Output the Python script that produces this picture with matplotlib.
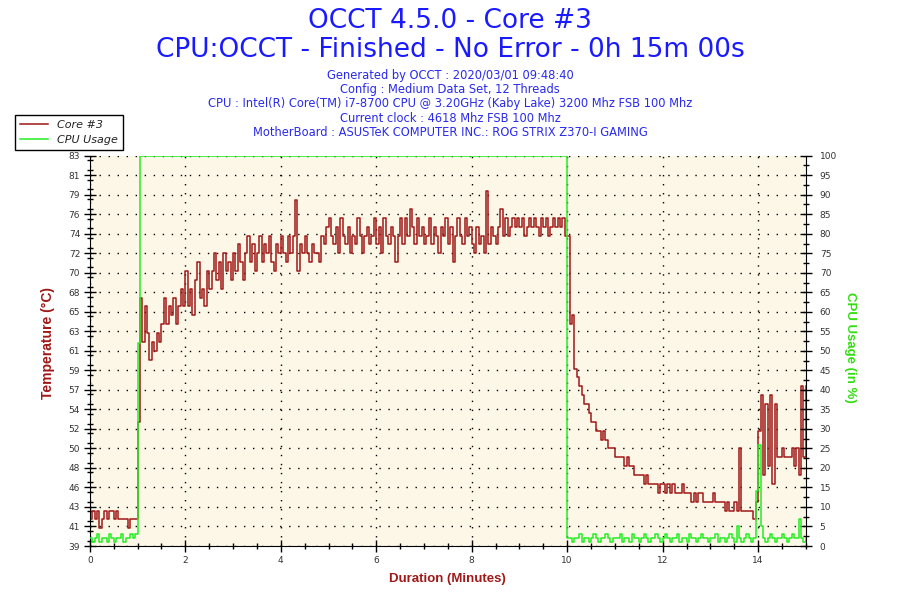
import numpy as np
import matplotlib
matplotlib.use("Agg")
from matplotlib import pyplot as plt
from matplotlib.ticker import MultipleLocator

# Samples, one every 0.05 min (3 s)
sample_step = 0.05

core_temp = [
    42, 43, 42, 43, 41, 42, 43, 42, 43, 43, 42, 43, 42, 42, 42, 42, 41, 42, 42, 42,  # 0 min
    53, 67, 62, 66, 63, 60, 62, 61, 63, 62, 64, 67, 64, 66, 65, 67, 64, 66, 68, 66,  # 1
    70, 66, 68, 65, 69, 71, 67, 68, 66, 70, 68, 70, 72, 69, 71, 68, 72, 70, 71, 69,  # 2
    72, 70, 73, 71, 69, 72, 74, 71, 73, 70, 72, 74, 71, 73, 72, 74, 71, 70, 73, 72,  # 3
    74, 72, 71, 74, 72, 74, 78, 70, 73, 72, 74, 72, 71, 73, 72, 72, 71, 74, 73, 75,  # 4
    76, 74, 73, 75, 72, 76, 74, 73, 75, 72, 74, 73, 76, 74, 72, 74, 75, 73, 74, 76,  # 5
    73, 75, 72, 76, 74, 73, 75, 74, 71, 74, 76, 73, 76, 74, 77, 75, 73, 76, 74, 75,  # 6
    73, 74, 76, 73, 75, 74, 72, 75, 74, 76, 73, 75, 71, 74, 76, 74, 73, 76, 74, 75,  # 7
    73, 72, 75, 73, 74, 72, 79, 73, 75, 74, 73, 75, 77, 74, 76, 74, 75, 76, 75, 76,  # 8
    75, 76, 74, 75, 76, 75, 76, 75, 74, 76, 75, 76, 74, 75, 76, 75, 76, 75, 76, 74,  # 9
    74, 64, 65, 59, 58, 57, 56, 55, 55, 54, 53, 53, 52, 52, 51, 52, 51, 50, 50, 50,  # 10
    49, 49, 49, 49, 48, 49, 48, 48, 47, 47, 47, 47, 46, 47, 46, 46, 46, 46, 45, 46,  # 11
    46, 45, 46, 45, 46, 45, 45, 45, 46, 45, 45, 45, 44, 45, 44, 45, 45, 44, 44, 44,  # 12
    44, 45, 44, 44, 44, 44, 43, 44, 43, 43, 44, 43, 50, 43, 43, 43, 43, 43, 42, 44,  # 13
    52, 56, 47, 55, 48, 56, 46, 55, 49, 49, 50, 49, 49, 49, 50, 48, 50, 47, 57, 49,  # 14
    57,
]

cpu_idle_start = [2, 1, 2, 3, 1, 2, 2, 1, 3, 2, 1, 2, 2, 3, 1, 2, 2, 3, 2, 3]
cpu_load = [52] + [100] * 179
cpu_idle_end = [
    2,
    2, 1, 2, 2, 3, 1, 2, 2, 1, 2, 3, 2, 1, 2, 2, 3, 2, 1, 2, 2,
    2, 3, 1, 2, 2, 1, 3, 2, 2, 1, 2, 3, 2, 1, 2, 2, 3, 2, 1, 2,
    3, 2, 1, 2, 2, 3, 1, 2, 2, 1, 3, 2, 2, 1, 2, 3, 2, 2, 1, 2,
    2, 3, 1, 2, 2, 1, 2, 3, 2, 1, 5, 2, 1, 2, 3, 2, 1, 2, 14, 26,
    5, 2, 1, 2, 3, 2, 1, 2, 2, 3, 2, 1, 2, 3, 2, 2, 7, 2, 1, 2,
]
cpu_usage = cpu_idle_start + cpu_load + cpu_idle_end

temp_ticks = np.linspace(39, 83, 21)
temp_tick_labels = ["39", "41", "43", "46", "48", "50", "52", "54", "57", "59", "61",
                    "63", "65", "68", "70", "72", "74", "76", "79", "81", "83"]
cpu_ticks = list(range(0, 101, 5))
minute_ticks = [0, 2, 4, 6, 8, 10, 12, 14]

title_lines = ["OCCT 4.5.0 - Core #3", "CPU:OCCT - Finished - No Error - 0h 15m 00s"]
info_lines = [
    "Generated by OCCT : 2020/03/01 09:48:40",
    "Config : Medium Data Set, 12 Threads",
    "CPU : Intel(R) Core(TM) i7-8700 CPU @ 3.20GHz (Kaby Lake) 3200 Mhz FSB 100 Mhz",
    "Current clock : 4618 Mhz FSB 100 Mhz",
    "MotherBoard : ASUSTeK COMPUTER INC.: ROG STRIX Z370-I GAMING",
]

minutes = np.arange(len(core_temp)) * sample_step

red = "#a01818"
green = "#22ee22"
blue = "#1a1aff"

fig = plt.figure(figsize=(9, 6), dpi=100)
ax = fig.add_axes([0.0998, 0.09, 0.7956, 0.6505])
ax.set_facecolor("#fdf7e8")

temp_line, = ax.plot(minutes, core_temp, color=red, lw=1.1, drawstyle="steps-post")
ax.set_xlim(0, 15)
ax.set_ylim(39, 83)
ax.set_yticks(temp_ticks)
ax.set_yticklabels(temp_tick_labels)
ax.yaxis.set_minor_locator(MultipleLocator(1.1))
ax.set_xticks(minute_ticks)
ax.set_xticklabels([str(m) for m in minute_ticks])
ax.xaxis.set_minor_locator(MultipleLocator(0.5))
ax.tick_params(which="major", direction="inout", length=8, width=1,
               labelsize=6.5, labelcolor="#333333", pad=3)
ax.tick_params(which="minor", direction="inout", length=5, width=1)
ax.grid(True, which="major", color="black", linestyle=(0, (1, 5.5)), lw=1.0)
for s in ["top", "right"]:
    ax.spines[s].set_visible(False)

ax2 = ax.twinx()
cpu_line, = ax2.plot(minutes, cpu_usage, color=green, lw=1.1, drawstyle="steps-post")
ax2.set_ylim(0, 100)
ax2.set_yticks(cpu_ticks)
ax2.yaxis.set_minor_locator(MultipleLocator(2.5))
ax2.tick_params(which="major", direction="inout", length=8, width=1,
                labelsize=6.5, labelcolor="#333333", pad=6)
ax2.tick_params(which="minor", direction="inout", length=5, width=1)
for s in ["top", "left", "bottom"]:
    ax2.spines[s].set_visible(False)

# titles
fig.text(0.5, 1 - 21 / 600, title_lines[0], fontsize=19, color=blue, ha="center", va="center")
fig.text(0.5, 1 - 50 / 600, title_lines[1], fontsize=19, color=blue, ha="center", va="center")
for i, line in enumerate(info_lines):
    fig.text(0.5, 1 - (76 + 14 * i) / 600, line, fontsize=8.3, color="#2a2aee",
             ha="center", va="center")

# axis labels
fig.text(48 / 900, 1 - 343 / 600, "Temperature (°C)", rotation=90, color=red,
         fontweight="bold", fontsize=10, ha="center", va="center", family="Liberation Sans")
fig.text(447 / 900, 1 - 579 / 600, "Duration (Minutes)", color=red,
         fontweight="bold", fontsize=9.5, ha="center", va="center", family="Liberation Sans")
fig.text(850 / 900, 1 - 347 / 600, "CPU Usage (in %)", rotation=-90, color="#33dd11",
         fontweight="bold", fontsize=9.5, ha="center", va="center", family="Liberation Sans")

leg = fig.legend([temp_line, cpu_line], ["Core #3", "CPU Usage"], loc="upper left",
                 bbox_to_anchor=(15 / 900, 1 - 115 / 600), fancybox=False, framealpha=1,
                 edgecolor="black", borderaxespad=0, borderpad=0.45, labelspacing=0.45,
                 handlelength=2.5, prop={"style": "italic", "size": 8})
leg.get_frame().set_linewidth(1)
for t in leg.get_texts():
    t.set_color("#222222")

fig.savefig("out.png", dpi=100)
